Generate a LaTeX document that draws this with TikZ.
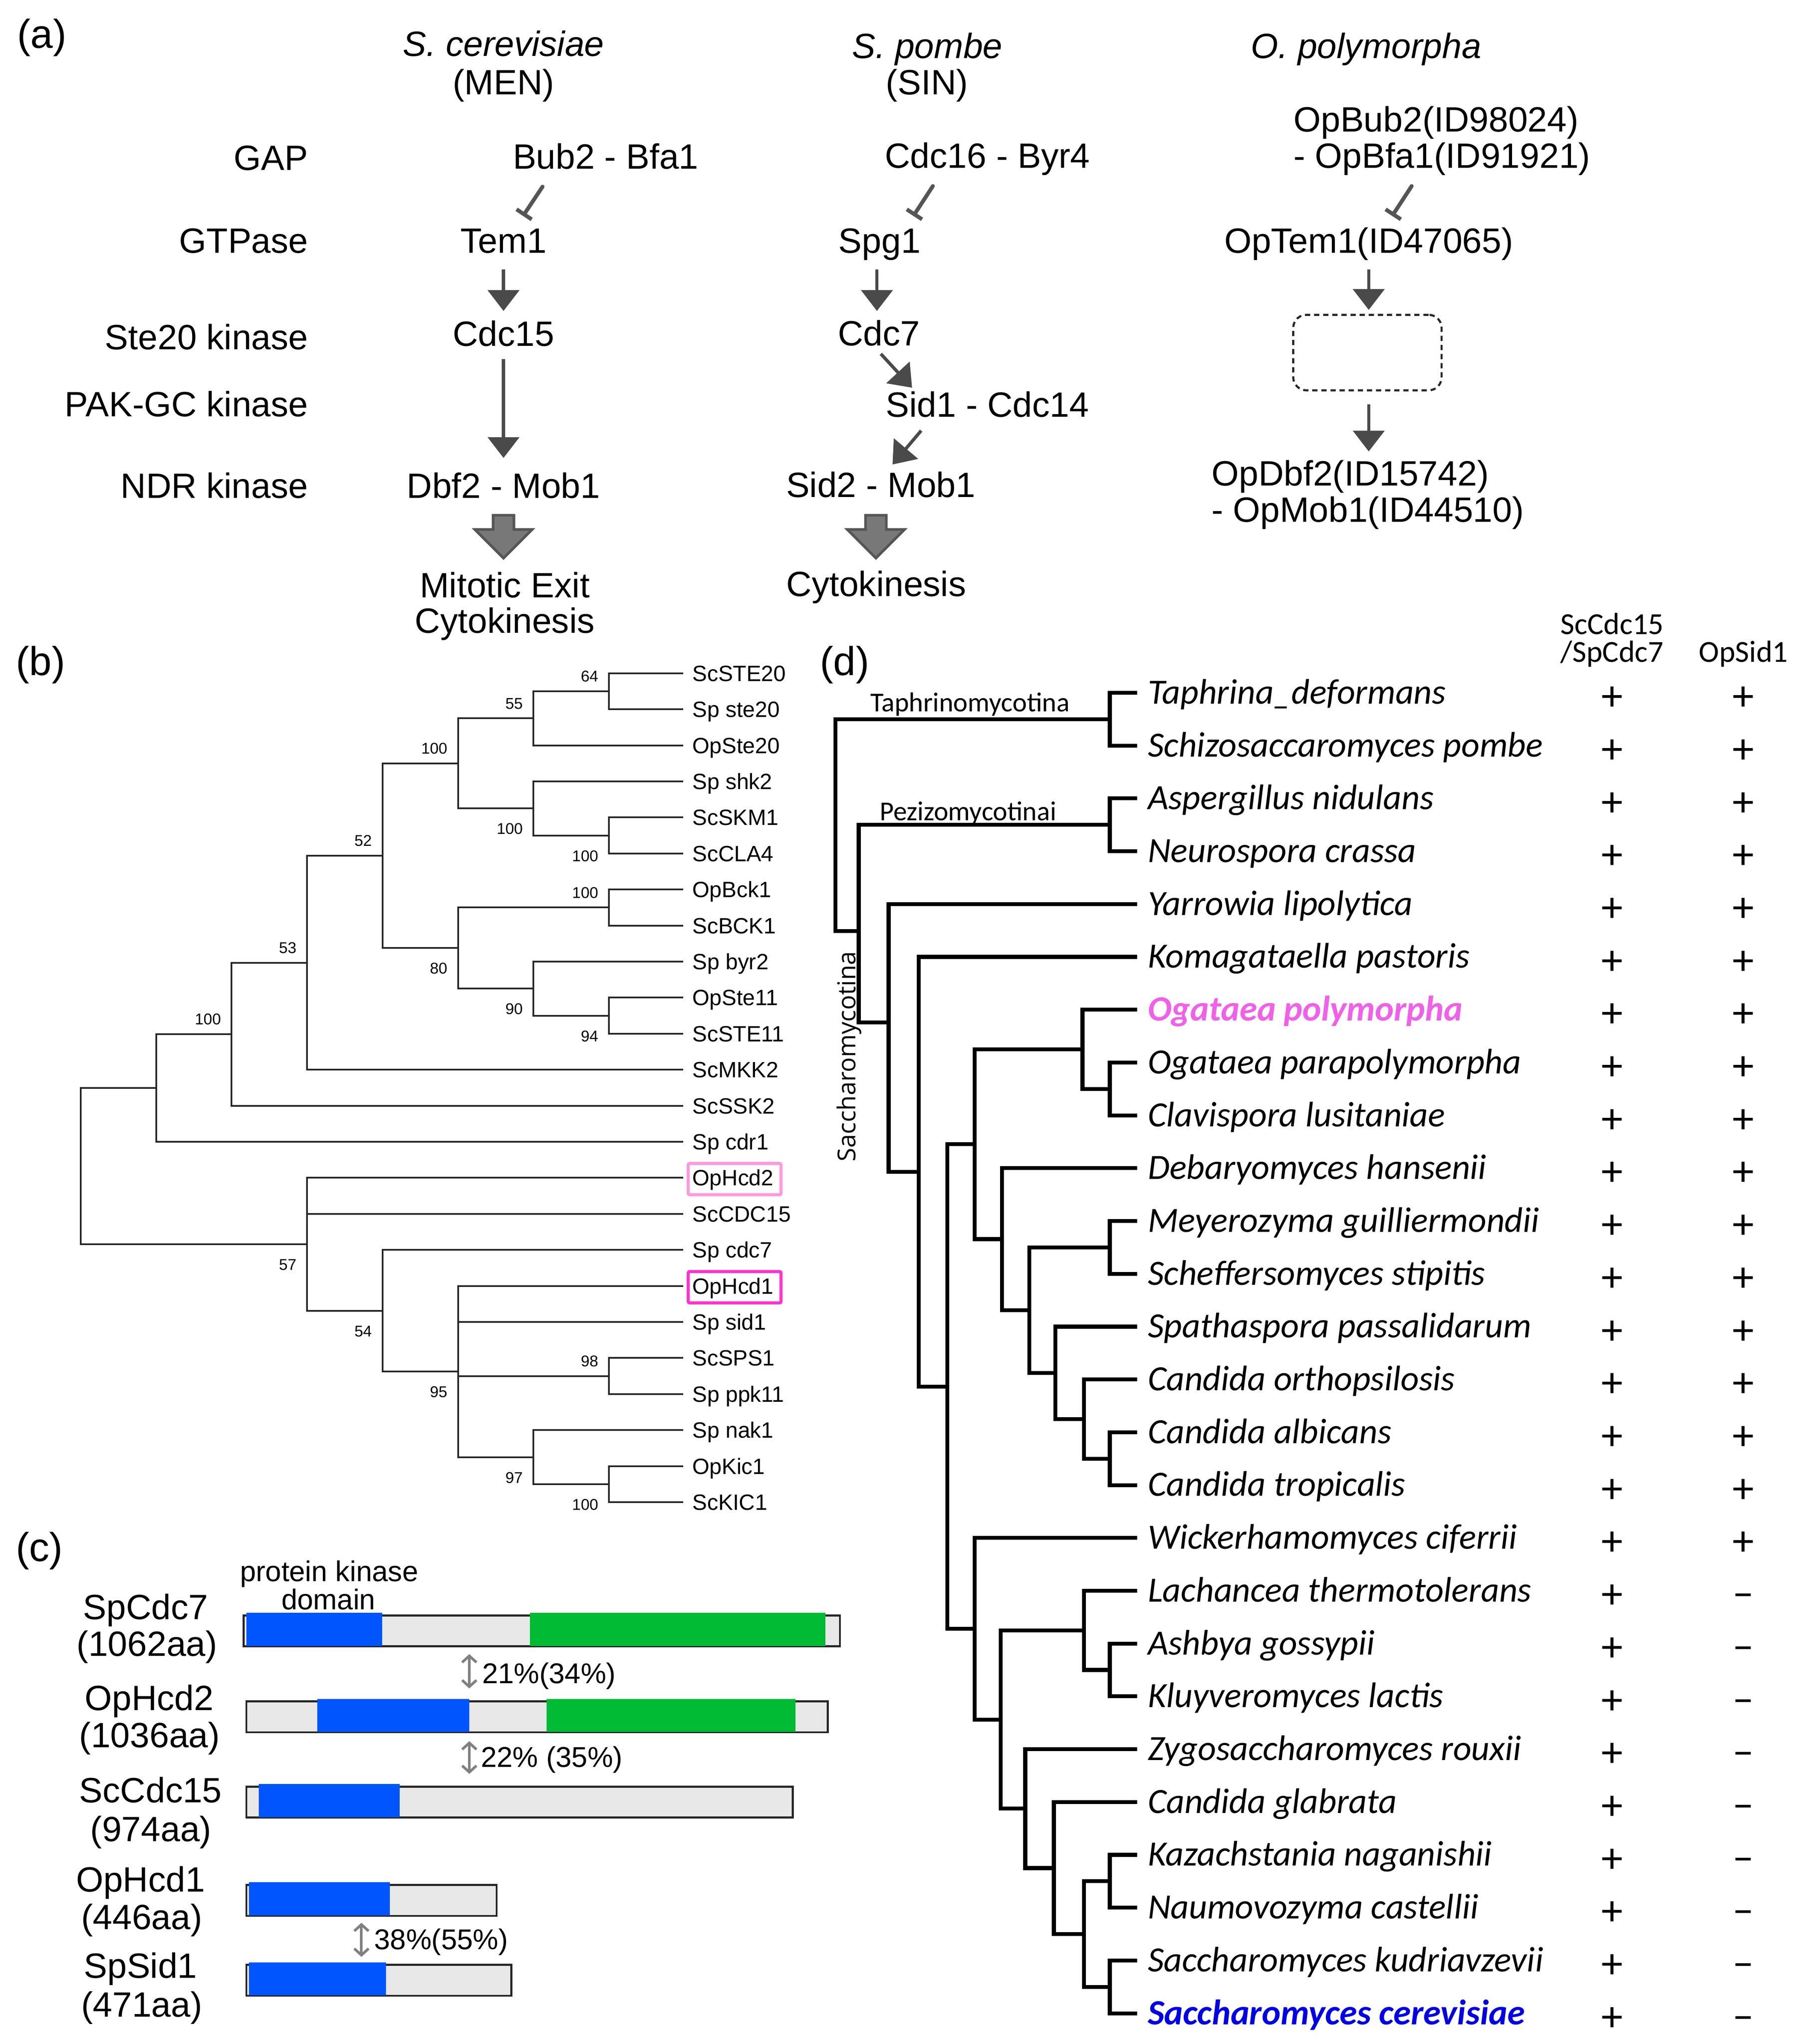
\documentclass[tikz,border=0pt]{standalone}
\usepackage{fontspec}
\newfontfamily\arialf{Liberation Sans}
\newfontfamily\calf{Carlito}
\newfontfamily\opensf{Open Sans}
\usetikzlibrary{arrows.meta,calc}
\definecolor{arrgray}{HTML}{4A4A4A}
\definecolor{inhgray}{HTML}{555555}
\definecolor{blkfill}{HTML}{787878}
\definecolor{blkdraw}{HTML}{555555}
\definecolor{kblue}{HTML}{0055FF}
\definecolor{kgreen}{HTML}{00BB33}
\definecolor{barfill}{HTML}{E8E8E8}
\definecolor{pinkA}{HTML}{FF99DD}
\definecolor{pinkB}{HTML}{FF33CC}
\definecolor{opmag}{HTML}{F060E8}
\definecolor{scblue}{HTML}{0000E6}
\definecolor{dgray}{HTML}{808080}
\begin{document}
\begin{tikzpicture}[x=1pt,y=-1pt,
  fa/.style={font=\arialf\fontsize{27}{32}\selectfont, inner sep=0pt, anchor=base},
  fai/.style={fa, font=\arialf\itshape\fontsize{27}{32}\selectfont},
  panel/.style={font=\arialf\fontsize{31}{36}\selectfont, inner sep=0pt, anchor=base west},
  arr/.style={draw=arrgray, line width=2.5pt, -{Triangle[width=24pt,length=16pt]}},
  inh/.style={draw=inhgray, line width=3pt, line cap=round, -{Bar[width=14pt]}},
  blk/.style={fill=blkfill, draw=blkdraw, line width=2pt},
  unkbox/.style={draw=black!85, dash pattern=on 4pt off 3pt, line width=1.6pt, rounded corners=10pt, minimum width=114pt, minimum height=58pt, inner sep=0pt},
  leafb/.style={font=\arialf\fontsize{17}{20}\selectfont, inner sep=0pt, text height=12.2pt, text depth=0pt, anchor=west},
  boot/.style={font=\arialf\fontsize{12}{14}\selectfont, inner sep=0pt, anchor=base east},
  treeb/.style={draw=black!85, line width=1.3pt},
  hcdbox/.style={line width=2.4pt, rounded corners=1pt},
  bar/.style={draw=black!85, fill=barfill, line width=1.5pt, inner sep=0pt, anchor=north west, minimum height=23.8pt},
  fp/.style={font=\arialf\fontsize{22}{26}\selectfont, inner sep=0pt, anchor=base west},
  darr/.style={draw=dgray, line width=2pt, {Straight Barb[length=5pt,width=11pt]}-{Straight Barb[length=5pt,width=11pt]}},
  leafd/.style={font=\calf\itshape\fontsize{27.3}{32}\selectfont, inner sep=0pt, text height=17pt, text depth=0pt, anchor=west},
  treed/.style={draw=black, line width=3pt},
  pm/.style={font=\calf\fontsize{33}{38}\selectfont, inner sep=0pt, anchor=base},
  hdr/.style={font=\calf\fontsize{23.5}{28}\selectfont, inner sep=0pt, anchor=base},
  clade/.style={font=\calf\fontsize{21}{25}\selectfont, inner sep=0pt, anchor=base west},
]
\fill[white] (0,0) rectangle (1385,1571.1);
\useasboundingbox (0,0) rectangle (1385,1571.1);

% ================= panel (a) =================
\node[panel] (lbla) at (13,37) {(a)};
\node[fai] (scT) at (387,43) {S. cerevisiae};
\node[fa] (scN) at (387,72.7) {(MEN)};
\node[fai] (spT) at (712.7,44.7) {S. pombe};
\node[fa] (spN) at (712.5,72.7) {(SIN)};
\node[fai] (opT) at (1050,44.7) {O. polymorpha};

\node[fa, anchor=base east] (rgap) at (237,130.8) {GAP};
\node[fa, anchor=base east] (rgtp) at (237,194.6) {GTPase};
\node[fa, anchor=base east] (rste) at (237,268.6) {Ste20 kinase};
\node[fa, anchor=base east] (rpak) at (237,320) {PAK-GC kinase};
\node[fa, anchor=base east] (rndr) at (237,382.8) {NDR kinase};

\node[fa] (bub2) at (465.5,129.8) {Bub2 - Bfa1};
\node[fa] (tem1) at (387,194.6) {Tem1};
\node[fa] (cdc15) at (387,266) {Cdc15};
\node[fa] (dbf2) at (387,382.8) {Dbf2 - Mob1};
\node[fa] (mexit) at (388,459.3) {Mitotic Exit};
\node[fa] (cytoA) at (388,486.5) {Cytokinesis};

\node[fa] (cdc16) at (759,129.2) {Cdc16 - Byr4};
\node[fa] (spg1) at (676,194.6) {Spg1};
\node[fa] (cdc7) at (675.5,265.7) {Cdc7};
\node[fa] (sid1) at (759,320.6) {Sid1 - Cdc14};
\node[fa] (sid2) at (677,382.1) {Sid2 - Mob1};
\node[fa] (cytoB) at (673.5,458.4) {Cytokinesis};

\node[fa, anchor=base west] (opbub) at (994,101.4) {OpBub2(ID98024)};
\node[fa, anchor=base west] (opbfa) at (994,129.2) {- OpBfa1(ID91921)};
\node[fa] (optem) at (1052,194.6) {OpTem1(ID47065)};
\node[unkbox] (unk) at (1051,271) {};
\node[fa, anchor=base west] (opdbf) at (931,373.2) {OpDbf2(ID15742)};
\node[fa, anchor=base west] (opmob) at (931,401.3) {- OpMob1(ID44510)};

\draw[inh] ($(bub2.base)+(-48.5,13.7)$) -- ($(tem1.base)+(15,-28.6)$);
\draw[arr] ($(tem1.base)+(0,12.4)$) -- ($(cdc15.base)+(0,-27)$);
\draw[arr] ($(cdc15.base)+(0,10)$) -- ($(dbf2.base)+(0,-30.8)$);
\draw[blk] ($(dbf2.base)+(-8,13.2)$) -- ++(16,0) -- ++(0,11) -- ++(14,0) -- ++(-22,22) -- ++(-22,-22) -- ++(14,0) -- cycle;

\draw[inh] ($(cdc16.base)+(-42,13.8)$) -- ($(spg1.base)+(26,-28.6)$);
\draw[arr] ($(spg1.base)+(-2,12.4)$) -- ($(cdc7.base)+(-1.5,-26.7)$);
\draw[arr] ($(cdc7.base)+(1.5,6.3)$) -- ($(sid1.base)+(-58,-22.6)$);
\draw[arr] ($(sid1.base)+(-51,10.4)$) -- ($(sid2.base)+(9,-25.1)$);
\draw[blk] ($(sid2.base)+(-11.8,13.9)$) -- ++(16,0) -- ++(0,11) -- ++(14,0) -- ++(-22,22) -- ++(-22,-22) -- ++(14,0) -- cycle;

\draw[inh] ($(opbfa.base west)+(91,13.8)$) -- ($(optem.base)+(18,-28.6)$);
\draw[arr] ($(optem.base)+(0,12.4)$) -- ($(unk.north)+(1,-3)$);
\draw[arr] ($(unk.south)+(1,10)$) -- ($(opdbf.base west)+(121,-26.2)$);

% ================= panel (b) =================
\node[panel] (lblb) at (12,519) {(b)};
\foreach \i/\nm in {0/ScSTE20,1/Sp ste20,2/OpSte20,3/Sp shk2,4/ScSKM1,5/ScCLA4,6/OpBck1,7/ScBCK1,8/Sp byr2,9/OpSte11,10/ScSTE11,11/ScMKK2,12/ScSSK2,13/Sp cdr1,14/OpHcd2,15/ScCDC15,16/Sp cdc7,17/OpHcd1,18/Sp sid1,19/ScSPS1,20/Sp ppk11,21/Sp nak1,22/OpKic1,23/ScKIC1}
  \node[leafb] (lb\i) at (532,{517.5+27.7*\i}) {\nm};

\coordinate (a1) at (468,531.35);
\coordinate (a2) at (410,552.125);
\coordinate (a3) at (468,642.15);
\coordinate (a4) at (410,621.375);
\coordinate (a5) at (352,586.75);
\coordinate (a6) at (468,697.55);
\coordinate (a7) at (468,780.65);
\coordinate (a8) at (410,759.875);
\coordinate (a9) at (352,728.71);
\coordinate (a10) at (294,657.73);
\coordinate (a11) at (236,739.97);
\coordinate (a12) at (178,794.93);
\coordinate (a13) at (120,836.27);
\coordinate (b1) at (468,1057.65);
\coordinate (b2) at (468,1140.75);
\coordinate (b3) at (410,1119.98);
\coordinate (b4) at (352,1054.19);
\coordinate (b5) at (294,1007.45);
\coordinate (b6) at (236,956.37);
\coordinate (rootb) at (62,896.32);

\draw[treeb] (rootb) |- (a13) (rootb) |- (b6);
\draw[treeb] (a13) |- (a12) (a13) |- ([xshift=-7pt]lb13.west);
\draw[treeb] (a12) |- (a11) (a12) |- ([xshift=-7pt]lb12.west);
\draw[treeb] (a11) |- (a10) (a11) |- ([xshift=-7pt]lb11.west);
\draw[treeb] (a10) |- (a5) (a10) |- (a9);
\draw[treeb] (a5) |- (a2) (a5) |- (a4);
\draw[treeb] (a2) |- (a1) (a2) |- ([xshift=-7pt]lb2.west);
\draw[treeb] (a1) |- ([xshift=-7pt]lb0.west) (a1) |- ([xshift=-7pt]lb1.west);
\draw[treeb] (a4) |- ([xshift=-7pt]lb3.west) (a4) |- (a3);
\draw[treeb] (a3) |- ([xshift=-7pt]lb4.west) (a3) |- ([xshift=-7pt]lb5.west);
\draw[treeb] (a9) |- (a6) (a9) |- (a8);
\draw[treeb] (a6) |- ([xshift=-7pt]lb6.west) (a6) |- ([xshift=-7pt]lb7.west);
\draw[treeb] (a8) |- ([xshift=-7pt]lb8.west) (a8) |- (a7);
\draw[treeb] (a7) |- ([xshift=-7pt]lb9.west) (a7) |- ([xshift=-7pt]lb10.west);
\draw[treeb] (b6) |- ([xshift=-7pt]lb14.west) (b6) |- ([xshift=-7pt]lb15.west) (b6) |- (b5);
\draw[treeb] (b5) |- ([xshift=-7pt]lb16.west) (b5) |- (b4);
\draw[treeb] (b4) |- ([xshift=-7pt]lb17.west) (b4) |- ([xshift=-7pt]lb18.west) (b4) |- (b1) (b4) |- (b3);
\draw[treeb] (b1) |- ([xshift=-7pt]lb19.west) (b1) |- ([xshift=-7pt]lb20.west);
\draw[treeb] (b3) |- ([xshift=-7pt]lb21.west) (b3) |- (b2);
\draw[treeb] (b2) |- ([xshift=-7pt]lb22.west) (b2) |- ([xshift=-7pt]lb23.west);

% bootstrap values (above: -7.3, below: +19.9)
\node[boot] at ($(a1)+(-8,-7.3)$) {64};
\node[boot] at ($(a2)+(-8,-7.3)$) {55};
\node[boot] at ($(a3)+(-8,19.9)$) {100};
\node[boot] at ($(a4)+(-8,19.9)$) {100};
\node[boot] at ($(a5)+(-8,-7.3)$) {100};
\node[boot] at ($(a6)+(-8,-7.3)$) {100};
\node[boot] at ($(a7)+(-8,19.9)$) {94};
\node[boot] at ($(a8)+(-8,19.9)$) {90};
\node[boot] at ($(a9)+(-8,19.9)$) {80};
\node[boot] at ($(a10)+(-8,-7.3)$) {52};
\node[boot] at ($(a11)+(-8,-7.3)$) {53};
\node[boot] at ($(a12)+(-8,-7.3)$) {100};
\node[boot] at ($(b1)+(-8,-7.3)$) {98};
\node[boot] at ($(b2)+(-8,19.9)$) {100};
\node[boot] at ($(b3)+(-8,19.9)$) {97};
\node[boot] at ($(b4)+(-8,19.9)$) {95};
\node[boot] at ($(b5)+(-8,19.9)$) {54};
\node[boot] at ($(b6)+(-8,19.9)$) {57};

\draw[hcdbox, draw=pinkA] ($(lb14.west)+(-3,-11)$) rectangle ($(lb14.east)+(5.5,13)$);
\draw[hcdbox, draw=pinkB] ($(lb17.west)+(-3,-11)$) rectangle ($(lb17.east)+(5.5,13)$);

% ================= panel (c) =================
\node[panel] (lblc) at (12,1200) {(c)};
\node[fp, anchor=base] (pkd1) at (253,1215.4) {protein kinase};
\node[fp, anchor=base] (pkd2) at (252.5,1237.1) {domain};

\node[fa] (nm1) at (112,1244.6) {SpCdc7};
\node[fa] (aa1) at (113,1272.8) {(1062aa)};
\node[fa] (nm2) at (114.7,1314.5) {OpHcd2};
\node[fa] (aa2) at (115,1343.2) {(1036aa)};
\node[fa] (nm3) at (115.8,1385.6) {ScCdc15};
\node[fa] (aa3) at (116,1415.5) {(974aa)};
\node[fa] (nm4) at (108,1454.2) {OpHcd1};
\node[fa] (aa4) at (109,1482.9) {(446aa)};
\node[fa] (nm5) at (108,1520.3) {SpSid1};
\node[fa] (aa5) at (109,1550.3) {(471aa)};

\node[bar, minimum width=458.3pt] (bar1) at (186.5,1240.9) {};
\node[bar, minimum width=446.9pt] (bar2) at (188.6,1307) {};
\node[bar, minimum width=420pt] (bar3) at (188.6,1372.5) {};
\node[bar, minimum width=192.4pt] (bar4) at (188.6,1448) {};
\node[bar, minimum width=203.7pt] (bar5) at (188.6,1509.5) {};

\fill[kblue] ($(bar1.north west)+(2.9,-1.2)$) rectangle ($(bar1.south west)+(107.3,-1)$);
\fill[kgreen] ($(bar1.north west)+(220.9,-1.2)$) rectangle ($(bar1.south west)+(447.8,-1)$);
\fill[kblue] ($(bar2.north west)+(55.4,-1.2)$) rectangle ($(bar2.south west)+(172.1,-1)$);
\fill[kgreen] ($(bar2.north west)+(231.4,-1.2)$) rectangle ($(bar2.south west)+(422.9,-1)$);
\fill[kblue] ($(bar3.north west)+(10.4,-1.2)$) rectangle ($(bar3.south west)+(118.6,-1)$);
\fill[kblue] ($(bar4.north west)+(2.9,-1.2)$) rectangle ($(bar4.south west)+(111.1,-1)$);
\fill[kblue] ($(bar5.north west)+(2.9,-1.2)$) rectangle ($(bar5.south west)+(108.1,-1)$);

\draw[darr] ($(bar1.south west)+(174.2,5.2)$) -- ($(bar2.north west)+(172.1,-9.2)$);
\draw[darr] ($(bar2.south west)+(172.1,6)$) -- ($(bar3.north west)+(172.1,-9)$);
\draw[darr] ($(bar4.south west)+(89.2,4.6)$) -- ($(bar5.north west)+(89.2,-5.4)$);
\node[fp] (pc1) at (370.4,1293.8) {21\%(34\%)};
\node[fp] (pc2) at (369.5,1358.1) {22\% (35\%)};
\node[fp] (pc3) at (287.5,1498.5) {38\%(55\%)};

% ================= panel (d) =================
\node[panel] (lbld) at (630,519) {(d)};
\node[hdr, text depth=0pt] (h1a) at (1239,487.5) {ScCdc15};
\node[hdr, text height=13pt] (h1b) at (1239,509) {/SpCdc7};
\node[hdr] (h2) at (1340,509) {OpSid1};

\foreach \i/\nm in {0/Taphrina\_deformans,1/Schizosaccaromyces pombe,2/Aspergillus nidulans,3/Neurospora crassa,4/Yarrowia lipolytica,5/Komagataella pastoris,7/Ogataea parapolymorpha,8/Clavispora lusitaniae,9/Debaryomyces hansenii,10/Meyerozyma guilliermondii,11/Scheffersomyces stipitis,12/Spathaspora passalidarum,13/Candida orthopsilosis,14/Candida albicans,15/Candida tropicalis,16/Wickerhamomyces ciferrii,17/Lachancea thermotolerans,18/Ashbya gossypii,19/Kluyveromyces lactis,20/Zygosaccharomyces rouxii,21/Candida glabrata,22/Kazachstania naganishii,23/Naumovozyma castellii,24/Saccharomyces kudriavzevii}
  \node[leafd] (ld\i) at (882,{532.5+40.6*\i}) {\nm};
\node[leafd, font=\calf\bfseries\itshape\fontsize{27.3}{32}\selectfont, text=opmag] (ld6) at (882,{532.5+40.6*6}) {Ogataea polymorpha};
\node[leafd, font=\calf\bfseries\itshape\fontsize{27.3}{32}\selectfont, text=scblue] (ld25) at (882,{532.5+40.6*25}) {Saccharomyces cerevisiae};

\foreach \i in {0,...,25}
  \node[pm] (pmA\i) at (1239,{532.5+40.6*\i+13.5}) {+};
\foreach \i in {0,...,16}
  \node[pm] (pmB\i) at (1340,{532.5+40.6*\i+13.5}) {+};
\foreach \i in {17,...,25}
  \node[pm] (pmB\i) at (1340,{532.5+40.6*\i+12.5}) {–};

\coordinate (ntaph) at (853,552.8);
\coordinate (npez) at (853,634.0);
\coordinate (nop) at (853,837.0);
\coordinate (nogat) at (832,806.55);
\coordinate (nms) at (853,958.8);
\coordinate (nca) at (853,1121.2);
\coordinate (nco) at (833,1090.75);
\coordinate (nsp) at (811,1055.2);
\coordinate (nmsp) at (791,1007.0);
\coordinate (ndeb) at (770,952.45);
\coordinate (ncug) at (749,879.5);
\coordinate (nak) at (853,1283.6);
\coordinate (nlak) at (833,1253.15);
\coordinate (nkn) at (853,1446.0);
\coordinate (nsc) at (853,1527.2);
\coordinate (nks) at (833,1486.6);
\coordinate (ncg) at (810,1435.85);
\coordinate (nzr) at (788,1390.2);
\coordinate (nsacc) at (769,1321.7);
\coordinate (nwick) at (749,1251.9);
\coordinate (nsev) at (728,1065.7);
\coordinate (nsix) at (706,900.6);
\coordinate (nsac) at (683,786);
\coordinate (nsixty) at (660,715.5);
\coordinate (rootd) at (642,634);

\draw[treed] (rootd) |- (ntaph) (rootd) |- (nsixty);
\draw[treed] (ntaph) |- ([xshift=-8pt]ld0.west) (ntaph) |- ([xshift=-8pt]ld1.west);
\draw[treed] (nsixty) |- (npez) (nsixty) |- (nsac);
\draw[treed] (npez) |- ([xshift=-8pt]ld2.west) (npez) |- ([xshift=-8pt]ld3.west);
\draw[treed] (nsac) |- ([xshift=-8pt]ld4.west) (nsac) |- (nsix);
\draw[treed] (nsix) |- ([xshift=-8pt]ld5.west) (nsix) |- (nsev);
\draw[treed] (nsev) |- (ncug) (nsev) |- (nwick);
\draw[treed] (ncug) |- (nogat) (ncug) |- (ndeb);
\draw[treed] (nogat) |- ([xshift=-8pt]ld6.west) (nogat) |- (nop);
\draw[treed] (nop) |- ([xshift=-8pt]ld7.west) (nop) |- ([xshift=-8pt]ld8.west);
\draw[treed] (ndeb) |- ([xshift=-8pt]ld9.west) (ndeb) |- (nmsp);
\draw[treed] (nmsp) |- (nms) (nmsp) |- (nsp);
\draw[treed] (nms) |- ([xshift=-8pt]ld10.west) (nms) |- ([xshift=-8pt]ld11.west);
\draw[treed] (nsp) |- ([xshift=-8pt]ld12.west) (nsp) |- (nco);
\draw[treed] (nco) |- ([xshift=-8pt]ld13.west) (nco) |- (nca);
\draw[treed] (nca) |- ([xshift=-8pt]ld14.west) (nca) |- ([xshift=-8pt]ld15.west);
\draw[treed] (nwick) |- ([xshift=-8pt]ld16.west) (nwick) |- (nsacc);
\draw[treed] (nsacc) |- (nlak) (nsacc) |- (nzr);
\draw[treed] (nlak) |- ([xshift=-8pt]ld17.west) (nlak) |- (nak);
\draw[treed] (nak) |- ([xshift=-8pt]ld18.west) (nak) |- ([xshift=-8pt]ld19.west);
\draw[treed] (nzr) |- ([xshift=-8pt]ld20.west) (nzr) |- (ncg);
\draw[treed] (ncg) |- ([xshift=-8pt]ld21.west) (ncg) |- (nks);
\draw[treed] (nks) |- (nkn) (nks) |- (nsc);
\draw[treed] (nkn) |- ([xshift=-8pt]ld22.west) (nkn) |- ([xshift=-8pt]ld23.west);
\draw[treed] (nsc) |- ([xshift=-8pt]ld24.west) (nsc) |- ([xshift=-8pt]ld25.west);

\node[clade] (taphlab) at (668.8,547) {Taphrinomycotina};
\node[clade] (pezlab) at (676,630.6) {Pezizomycotinai};
\node[font=\opensf\fontsize{19}{22}\selectfont, inner sep=0pt, anchor=base, rotate=90] (saclab) at (657.5,812) {Saccharomycotina};
\end{tikzpicture}
\end{document}
